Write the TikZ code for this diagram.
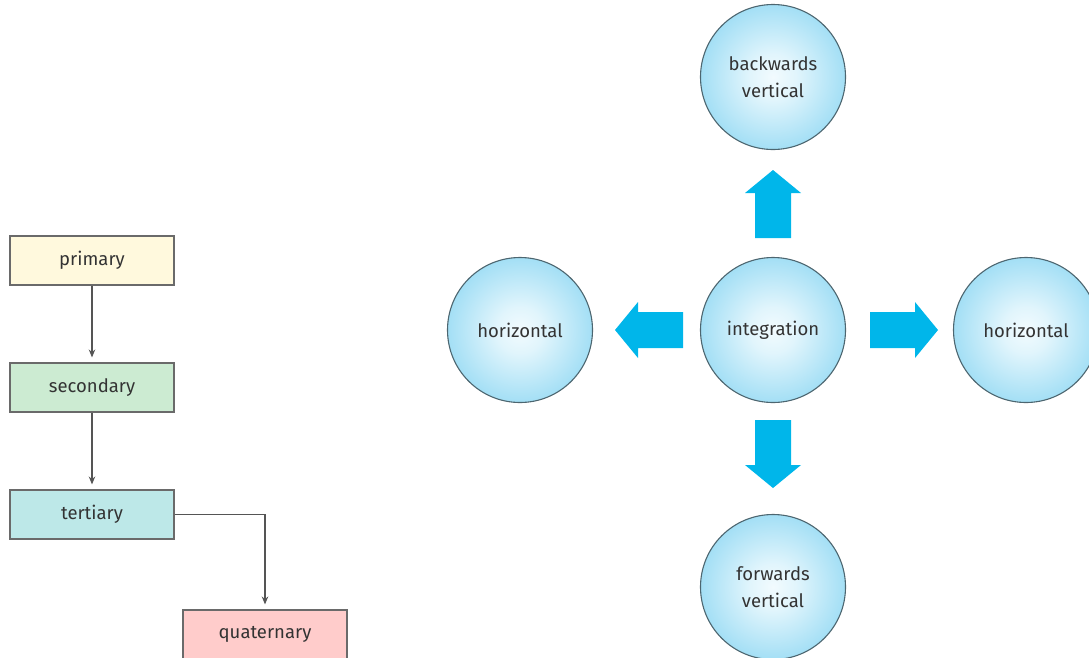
\documentclass[tikz,border=0pt]{standalone}
\usepackage{fontspec}
\setmainfont{Fira Sans}
\usetikzlibrary{arrows.meta}

\definecolor{inkgray}{HTML}{333333}
\definecolor{linegray}{HTML}{555555}
\definecolor{boxline}{HTML}{6A6A6A}
\definecolor{fillprimary}{HTML}{FFF9DD}
\definecolor{fillsecondary}{HTML}{CCEBD2}
\definecolor{filltertiary}{HTML}{BDE8E8}
\definecolor{fillquaternary}{HTML}{FFCCCB}
\definecolor{arrowblue}{HTML}{00B6EA}
\definecolor{ballouter}{HTML}{7FD2F1}
\definecolor{ballinner}{HTML}{F2FBFE}
\definecolor{ballline}{HTML}{4D6670}

\pgfdeclareradialshading{ball}{\pgfpoint{0bp}{0bp}}{%
  color(0bp)=(ballinner); color(8bp)=(ballinner!85!ballouter);
  color(35bp)=(ballouter); color(50bp)=(ballouter)}

\tikzset{
  lbl/.style={font=\fontsize{18.5}{27}\selectfont, text=inkgray, align=center},
  stagebox/.style={lbl, draw=boxline, line width=1.1pt, minimum width=164pt,
    minimum height=49pt, inner sep=0pt},
  ball/.style={lbl, circle, draw=ballline, line width=1.1pt, shading=ball,
    minimum size=145pt, inner sep=0pt},
  conn/.style={draw=linegray, line width=1.1pt,
    -{Stealth[length=8pt,width=6.5pt]}, shorten >=5pt},
  blockarrow/.pic={
    \fill[arrowblue] (0,-18) -- (45,-18) -- (45,-28) -- (68,0)
      -- (45,28) -- (45,18) -- (0,18) -- cycle;}
}

\begin{document}
\begin{tikzpicture}[x=1pt,y=1pt]
  \useasboundingbox (0,0) rectangle (1089,-657);

  % sector chain
  \node[stagebox, fill=fillprimary]    (primary)    at (92,-260.5) {primary};
  \node[stagebox, fill=fillsecondary]  (secondary)  at (92,-387.5) {secondary};
  \node[stagebox, fill=filltertiary]   (tertiary)   at (92,-514.5) {tertiary};
  \node[stagebox, fill=fillquaternary] (quaternary) at (265,-634.5) {quaternary};

  \draw[conn] (primary) -- (secondary);
  \draw[conn] (secondary) -- (tertiary);
  \draw[conn] (tertiary.east) -| (quaternary.north);

  % integration directions
  \node[ball] (integration) at (773,-330) {integration};
  \node[ball] (backward)    at (773,-77)  {backwards\\vertical};
  \node[ball] (forward)     at (773,-587) {forwards\\vertical};
  \node[ball] (horizleft)   at (520,-330) {horizontal};
  \node[ball] (horizright)  at (1026,-330) {horizontal};

  \pic[rotate=90]  at (773,-238) {blockarrow};
  \pic[rotate=-90] at (773,-420) {blockarrow};
  \pic[rotate=180] at (683,-330) {blockarrow};
  \pic             at (870,-330) {blockarrow};
\end{tikzpicture}
\end{document}
